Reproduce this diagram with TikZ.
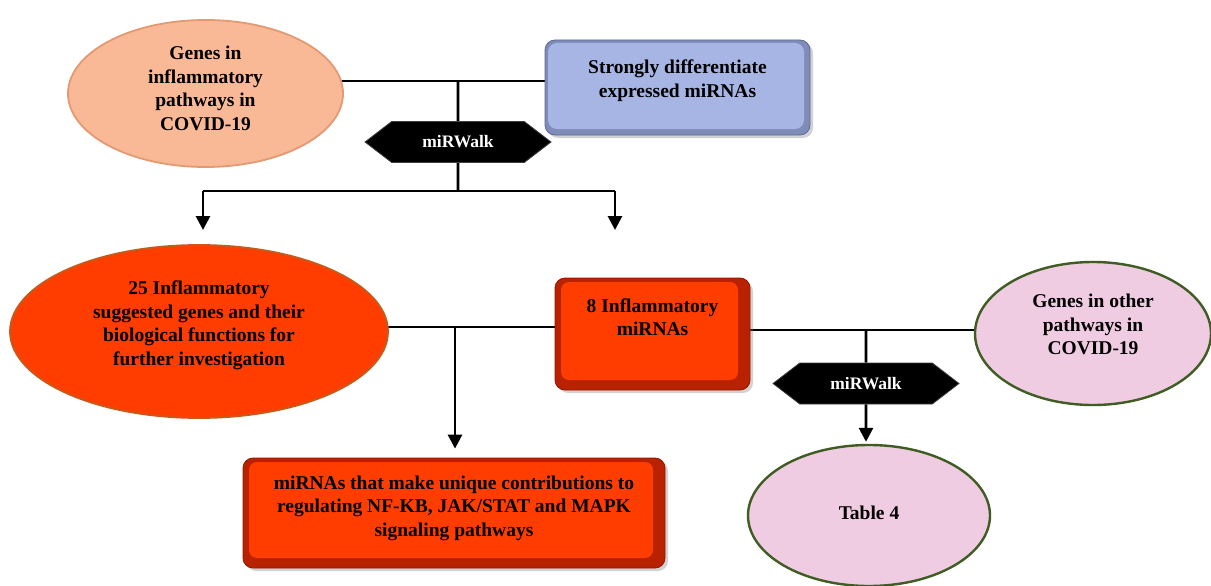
\documentclass[tikz,border=0pt]{standalone}
\usepackage{fontspec}
\setmainfont{Liberation Serif}
\usetikzlibrary{shapes.geometric,shapes.symbols,arrows.meta,shadows,backgrounds}
\definecolor{peach}{HTML}{F9B996}
\definecolor{peachline}{HTML}{E39A72}
\definecolor{boxblue}{HTML}{A7B5E4}
\definecolor{boxblueedge}{HTML}{7F8CBA}
\definecolor{boxblueline}{HTML}{5E6A92}
\definecolor{redface}{HTML}{FF3D00}
\definecolor{rededge}{HTML}{B82200}
\definecolor{redline}{HTML}{8E1800}
\definecolor{ovalline}{HTML}{C65A1A}
\definecolor{pinkfill}{HTML}{F0CCE3}
\definecolor{greenline}{HTML}{3F5D22}
\begin{document}
\begin{tikzpicture}[x=1pt,y=-1pt]
\tikzset{
  txt/.style={font=\bfseries\fontsize{19.5}{23.5}\selectfont, align=center, text=black},
  ovalshape/.style n args={3}{ellipse, fill=#1, draw=#2, line width=#3, inner sep=0pt},
  boxbase/.style={rectangle, rounded corners=10pt, line width=0.8pt, inner sep=0pt,
    drop shadow={shadow xshift=3pt, shadow yshift=-3pt, opacity=0.35}},
  bevelbox/.style n args={3}{boxbase, fill=#2, draw=#3,
    path picture={\fill[#1, rounded corners=8pt]
      ([shift={(6pt,-4pt)}]path picture bounding box.north west) rectangle
      ([shift={(-12pt,10pt)}]path picture bounding box.south east);}},
  thinbevelbox/.style n args={3}{boxbase, fill=#2, draw=#3,
    path picture={\fill[#1, rounded corners=9pt]
      ([shift={(3pt,-3pt)}]path picture bounding box.north west) rectangle
      ([shift={(-6pt,6pt)}]path picture bounding box.south east);}},
  hexa/.style={signal, signal to=west and east, signal pointer angle=75, fill=black,
    draw=black!75, line width=0.8pt, minimum width=186pt, minimum height=41pt, inner sep=0pt,
    font=\bfseries\fontsize{17.5}{20}\selectfont, text=white},
  conn/.style={line width=2.8pt, black},
  arr/.style={conn, -{Triangle[length=14pt,width=14pt]}},
}
\useasboundingbox (0,0) rectangle (1211,586);

% shapes
\node[ovalshape={peach}{peachline}{1.8pt}, minimum width=275pt, minimum height=147pt,
  label={[txt, yshift=5pt]center:Genes in\\inflammatory\\pathways in\\COVID-19}] (e1) at (205.5,93.5) {};
\node[thinbevelbox={boxblue}{boxblueedge}{boxblueline}, minimum width=265pt, minimum height=95pt,
  label={[txt, yshift=7pt]center:Strongly differentiate\\expressed miRNAs}] (b2) at (677.5,87.5) {};
\node[hexa] (hx1) at (458,142) {miRWalk};
\node[ovalshape={redface}{ovalline}{1.8pt}, minimum width=378pt, minimum height=173pt,
  label={[txt, yshift=6pt]center:25 Inflammatory\\suggested genes and their\\biological functions for\\further investigation}] (e3) at (199,331.5) {};
\node[bevelbox={redface}{rededge}{redline}, minimum width=195pt, minimum height=112pt,
  label={[txt, yshift=17pt]center:8 Inflammatory\\miRNAs}] (b8) at (652.5,334) {};
\node[bevelbox={redface}{rededge}{redline}, minimum width=422pt, minimum height=110pt,
  label={[txt, yshift=5pt]center:miRNAs that make unique contributions to\\regulating NF-KB, JAK/STAT and MAPK\\signaling pathways}] (b9) at (454,513) {};
\node[ovalshape={pinkfill}{greenline}{2.4pt}, minimum width=236pt, minimum height=143pt,
  label={[txt, yshift=9pt]center:Genes in other\\pathways in\\COVID-19}] (e4) at (1093,333.5) {};
\node[hexa] (hx2) at (866,383.5) {miRWalk};
\node[ovalshape={pinkfill}{greenline}{2.4pt}, minimum width=242pt, minimum height=141pt,
  label={[txt, yshift=3pt]center:Table 4}] (e5) at (869,515.5) {};

% junctions
\coordinate (j1) at (458,81);
\coordinate (j2) at (458,191);
\coordinate (a1) at (203,230);
\coordinate (a2) at (615,230);
\coordinate (j3) at (455,327);
\coordinate (j4) at (866,330);

\begin{scope}[on background layer]
  \fill[white] (0,0) rectangle (1211,586);
  \draw[conn] (e1.center |- j1) -- (b2.center |- j1);
  \draw[conn] (j1) -- (hx1) -- (j2);
  \draw[conn] (j2 -| a1) -- (j2 -| a2);
  \draw[arr] (j2 -| a1) -- (a1);
  \draw[arr] (j2 -| a2) -- (a2);
  \draw[conn] (e3.center |- j3) -- (b8.center |- j3);
  \draw[arr, shorten >=9pt] (j3) -- (b9.north -| j3);
  \draw[conn] (b8.center |- j4) -- (e4.center |- j4);
  \draw[arr, shorten >=2pt] (j4) -- (hx2) -- (e5.north -| j4);
\end{scope}
\end{tikzpicture}
\end{document}
